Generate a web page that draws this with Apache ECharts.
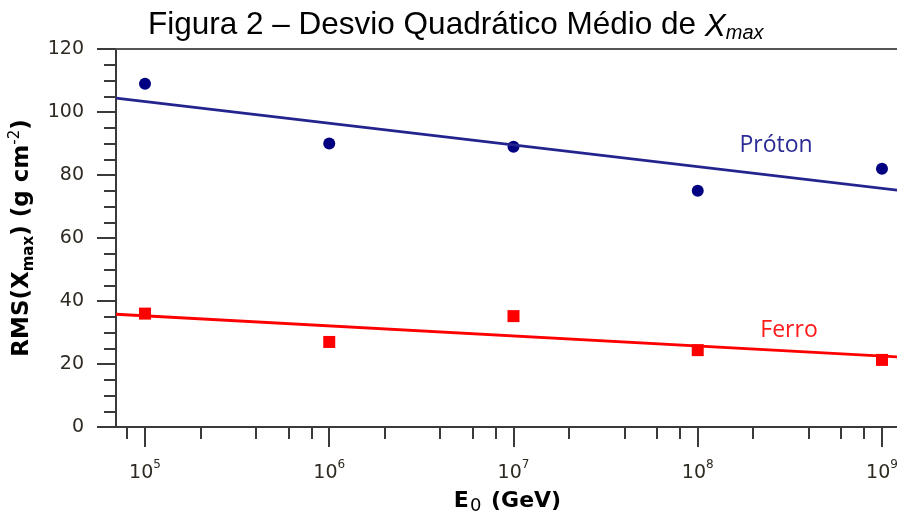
<!DOCTYPE html>
<html>
<head>
<meta charset="utf-8">
<script src="https://cdn.jsdelivr.net/npm/echarts@6/dist/echarts.min.js"></script>
<style>html,body{margin:0;padding:0;background:#fff}#c{width:897px;height:512px}</style>
</head>
<body>
<div id="c"></div>
<script>
// Data
const energies = [1e5, 1e6, 1e7, 1e8, 1e9];           // E0 (GeV)
const protonRMS = [109, 90, 89, 75, 82];               // RMS(Xmax) g cm^-2
const ferroRMS = [36, 27, 35.2, 24.4, 21.3];
const xRange = [69600, 1.237e9];
const protonFit = [[69600, 104.4], [1.237e9, 75.1]];
const ferroFit = [[69600, 35.8], [1.237e9, 22.2]];
const majorTicks = [1e5, 1e6, 1e7, 1e8, 1e9];
const minorTicks = [8e4, 2e5, 4e5, 6e5, 8e5, 2e6, 4e6, 6e6, 8e6, 2e7, 4e7, 6e7, 8e7, 2e8, 4e8, 6e8, 8e8];
const seriesLabels = [
  {name: 'Próton', coord: [2.66e8, 89.5], color: '#2b2b96'},
  {name: 'Ferro', coord: [3.13e8, 30.5], color: '#ff1a1a'}
];

const axisColor = '#3a3a3a';
const labelColor = '#2e2a22';
const chart = echarts.init(document.getElementById('c'));

const baseX = {
  type: 'log', logBase: 10, min: xRange[0], max: xRange[1],
  splitLine: {show: false}, minorTick: {show: false}
};

chart.setOption({
  animation: false,
  title: {
    text: 'Figura 2 – Desvio Quadrático Médio de {i|X}{is|max}',
    left: 143, top: 2,
    textStyle: {
      fontFamily: 'Liberation Sans', fontSize: 31.5, fontWeight: 'normal', color: '#000',
      rich: {
        i: {fontFamily: 'Liberation Sans', fontSize: 31.5, fontStyle: 'italic', color: '#000', verticalAlign: 'bottom', lineHeight: 36},
        is: {fontFamily: 'Liberation Sans', fontSize: 20, fontStyle: 'italic', color: '#000', verticalAlign: 'bottom', lineHeight: 29}
      }
    }
  },
  grid: {left: 116, top: 49, right: -2, bottom: 85, outerBoundsMode: 'none', containLabel: false},
  xAxis: [
    Object.assign({}, baseX, {
      position: 'bottom',
      axisLine: {show: true, lineStyle: {color: axisColor, width: 2}},
      axisTick: {show: true, inside: false, length: 20, customValues: majorTicks, lineStyle: {color: axisColor, width: 2}},
      axisLabel: {
        show: true, margin: 32, customValues: majorTicks,
        formatter: function (v) { return '{b|10}{s|' + Math.round(Math.log10(v)) + '}'; },
        rich: {
          b: {fontFamily: 'DejaVu Sans', fontSize: 19, color: labelColor, lineHeight: 22, verticalAlign: 'bottom'},
          s: {fontFamily: 'DejaVu Sans', fontSize: 12, color: labelColor, lineHeight: 24, verticalAlign: 'top'}
        }
      },
      name: 'E{sub|0} (GeV)', nameLocation: 'middle', nameGap: 61,
      nameTextStyle: {
        fontFamily: 'DejaVu Sans', fontWeight: 'bold', fontSize: 22, color: '#000',
        rich: {
          sub: {fontFamily: 'DejaVu Sans', fontWeight: 'normal', fontSize: 18, color: '#000', verticalAlign: 'bottom', lineHeight: 27, padding: [0, 2, 0, 1]}
        }
      }
    }),
    Object.assign({}, baseX, {
      position: 'bottom',
      axisLine: {show: false},
      axisTick: {show: true, inside: false, length: 12, customValues: minorTicks, lineStyle: {color: axisColor, width: 2}},
      axisLabel: {show: false}
    }),
    Object.assign({}, baseX, {
      position: 'top',
      axisLine: {show: true, lineStyle: {color: '#555', width: 2}},
      axisTick: {show: false},
      axisLabel: {show: false}
    })
  ],
  yAxis: {
    type: 'value', min: 0, max: 120, interval: 20,
    axisLine: {show: true, lineStyle: {color: axisColor, width: 2}},
    axisTick: {show: true, inside: false, length: 19, lineStyle: {color: axisColor, width: 2}},
    minorTick: {show: true, splitNumber: 4, length: 12, lineStyle: {color: axisColor, width: 2}},
    splitLine: {show: false},
    axisLabel: {margin: 32, fontFamily: 'DejaVu Sans', fontSize: 19, color: labelColor},
    name: 'RMS(X{sub|max}) (g cm{sup|-2})', nameLocation: 'middle', nameGap: 77, nameRotate: 90,
    nameTextStyle: {
      fontFamily: 'DejaVu Sans', fontWeight: 'bold', fontSize: 23, color: '#000',
      rich: {
        sub: {fontFamily: 'DejaVu Sans', fontWeight: 'bold', fontSize: 15, color: '#000', verticalAlign: 'bottom', lineHeight: 29},
        sup: {fontFamily: 'DejaVu Sans', fontWeight: 'normal', fontSize: 15, color: '#000', verticalAlign: 'top', lineHeight: 29}
      }
    }
  },
  series: [
    {
      type: 'line', xAxisIndex: 0, data: protonFit, symbol: 'none', silent: true,
      lineStyle: {color: '#24248f', width: 2.8},
      markPoint: {
        symbol: 'circle', symbolSize: 0,
        label: {show: true, position: 'inside', formatter: '{b}', fontFamily: 'Open Sans', fontSize: 23, color: seriesLabels[0].color},
        data: [{name: seriesLabels[0].name, coord: seriesLabels[0].coord}]
      }
    },
    {
      type: 'line', xAxisIndex: 0, data: ferroFit, symbol: 'none', silent: true,
      lineStyle: {color: '#ff0000', width: 2.8},
      markPoint: {
        symbol: 'circle', symbolSize: 0,
        label: {show: true, position: 'inside', formatter: '{b}', fontFamily: 'Open Sans', fontSize: 23, color: seriesLabels[1].color},
        data: [{name: seriesLabels[1].name, coord: seriesLabels[1].coord}]
      }
    },
    {
      type: 'scatter', xAxisIndex: 0, symbol: 'circle', symbolSize: 12,
      itemStyle: {color: '#000080', opacity: 1},
      data: energies.map((e, i) => [e, protonRMS[i]])
    },
    {
      type: 'scatter', xAxisIndex: 0, symbol: 'rect', symbolSize: 12,
      itemStyle: {color: '#ff0000', opacity: 1},
      data: energies.map((e, i) => [e, ferroRMS[i]])
    }
  ]
});
</script>
</body>
</html>
